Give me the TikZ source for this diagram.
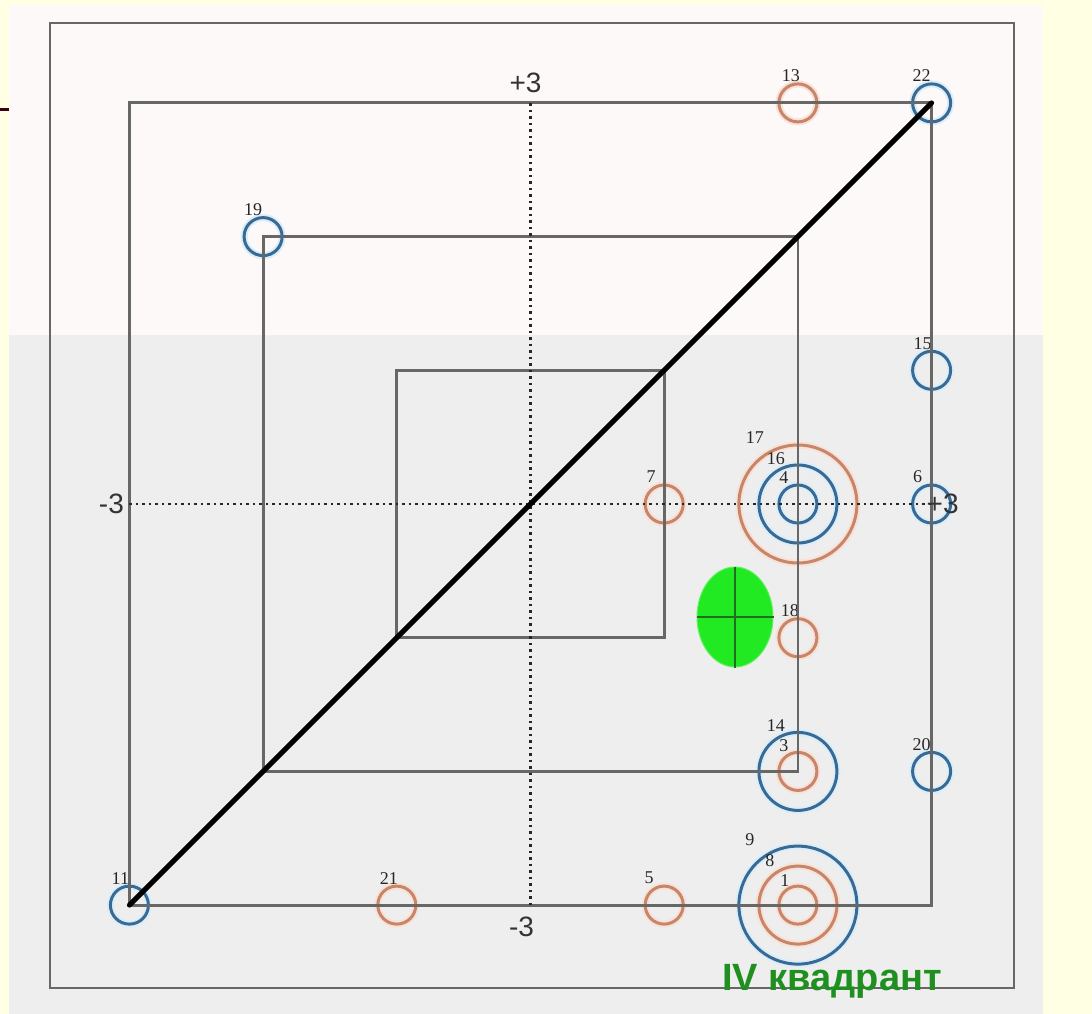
\documentclass[tikz,border=0pt]{standalone}
\usepackage{fontspec}
\setmainfont{Liberation Serif}
\newfontfamily\axisfont{Liberation Sans}
\usepackage{xcolor}
\definecolor{slidebg}{HTML}{FFFFE3}
\definecolor{toppanel}{HTML}{FDF9F8}
\definecolor{lowpanel}{HTML}{EEEEEE}
\definecolor{framegray}{HTML}{676767}
\definecolor{ringblue}{HTML}{3A6994}
\definecolor{ringorange}{HTML}{C8856A}
\definecolor{glowblue}{HTML}{D9EEF9}
\definecolor{gloworange}{HTML}{F7E2D8}
\definecolor{hitgreen}{HTML}{22EA22}
\definecolor{crossgreen}{HTML}{1F6F1F}
\definecolor{titlegreen}{HTML}{1F8F1F}
\usetikzlibrary{
  calc,
  shapes.geometric
}

\begin{document}
\begin{tikzpicture}[x=1pt, y=-1pt,
  frame/.style={draw=framegray, line width=2.8pt},
  ring/.style={circle, inner sep=0pt, line width=3pt, minimum size=#1},
  bluering/.style={ring=#1, draw=ringblue, preaction={draw=glowblue, line width=7pt}},
  bluering/.default=38pt,
  orangering/.style={ring=#1, draw=ringorange, preaction={draw=gloworange, line width=7pt}},
  orangering/.default=38pt,
  numlbl/.style={font=\fontsize{18}{18}\selectfont, text=black!85, inner sep=0pt},
  axislbl/.style={font=\axisfont\fontsize{28}{28}\selectfont, text=black!80, inner sep=0pt},
  axisdots/.style={draw=black!85, line width=2.5pt, dash pattern=on 2.5pt off 4pt},
  diag/.style={draw=black, line width=5pt, line cap=round},
  hit/.style={ellipse, fill=hitgreen, draw=hitgreen!70!white, line width=1pt, minimum width=76pt, minimum height=100pt, inner sep=0pt},
  titlelbl/.style={font=\axisfont\bfseries\fontsize{38}{38}\selectfont, text=titlegreen, inner sep=0pt},
]

% slide background and panel
\fill[slidebg] (0,0) rectangle (1092,1014);
\useasboundingbox (0,0) rectangle (1092,1014);
\fill[toppanel] (9,5) rectangle (1043,335);
\fill[lowpanel] (9,335) rectangle (1043,1014);
\draw[draw=black!70!purple, line width=3pt] (0,110) -- (9,110);
\draw[frame] (50,23) rectangle (1014,988);

\begin{scope}[shift={(530.5,504)}, x=133.7pt, y=133.7pt]

% single rings
\foreach \n/\i/\j/\dx in {13/2/3/-7, 21/-1/-3/-8, 5/1/-3/-15, 7/1/0/-13, 18/2/-1/-8}{
  \node[orangering] (r\n) at (\i,\j) {};
  \node[numlbl] at ($(r\n)+(\dx pt,27pt)$) {\n};
}
\foreach \n/\i/\j/\dx in {22/3/3/-10, 19/-2/2/-10, 15/3/1/-9, 6/3/0/-14, 20/3/-2/-10, 11/-3/-3/-9}{
  \node[bluering] (r\n) at (\i,\j) {};
  \node[numlbl] at ($(r\n)+(\dx pt,27pt)$) {\n};
}

% concentric rings
\node[orangering=118pt] (r17) at (2,0) {};
\node[bluering=78pt] (r16) at (2,0) {};
\node[bluering] (r4) at (2,0) {};
\node[numlbl] at ($(r17.center)+(-43pt,66pt)$) {17};
\node[numlbl] at ($(r16.center)+(-22pt,45pt)$) {16};
\node[numlbl] at ($(r4.center)+(-14pt,26pt)$) {4};

\node[bluering=78pt] (r14) at (2,-2) {};
\node[orangering] (r3) at (2,-2) {};
\node[numlbl] at ($(r14.center)+(-22pt,46pt)$) {14};
\node[numlbl] at ($(r3.center)+(-14pt,26pt)$) {3};

\node[bluering=118pt] (r9) at (2,-3) {};
\node[orangering=78pt] (r8) at (2,-3) {};
\node[orangering] (r1) at (2,-3) {};
\node[numlbl] at ($(r9.center)+(-48pt,65pt)$) {9};
\node[numlbl] at ($(r8.center)+(-28pt,45pt)$) {8};
\node[numlbl] at ($(r1.center)+(-13pt,25pt)$) {1};

% squares
\draw[frame] (-3,-3) rectangle (3,3);
\draw[frame] (-2,-2) rectangle (2,2);
\draw[frame] (-1,-1) rectangle (1,1);

% axes
\coordinate (xl) at (-3,0);
\coordinate (xr) at (3,0);
\coordinate (yb) at (0,-3);
\coordinate (yt) at (0,3);
\draw[axisdots] (xl) -- (xr);
\draw[axisdots] (yb) -- (yt);
\node[axislbl] (lyt) at ($(yt)+(-5pt,20pt)$) {+3};
\node[axislbl] (lyb) at ($(yb)+(-9pt,-22pt)$) {-3};
\node[axislbl] (lxl) at ($(xl)+(-18pt,0pt)$) {-3};
\node[axislbl] (lxr) at ($(xr)+(11pt,0pt)$) {+3};

% diagonal
\draw[diag] (r11.center) -- (r22.center);

\end{scope}

% hit mark
\node[hit] (shot) at (735,617) {};
\draw[crossgreen, line width=1.5pt] (shot.north) -- (shot.south);
\draw[crossgreen, line width=1.5pt] (shot.west) -- (shot.east);

\node[titlelbl, anchor=base west] (quad) at (722,990) {IV квадрант};

\end{tikzpicture}
\end{document}
